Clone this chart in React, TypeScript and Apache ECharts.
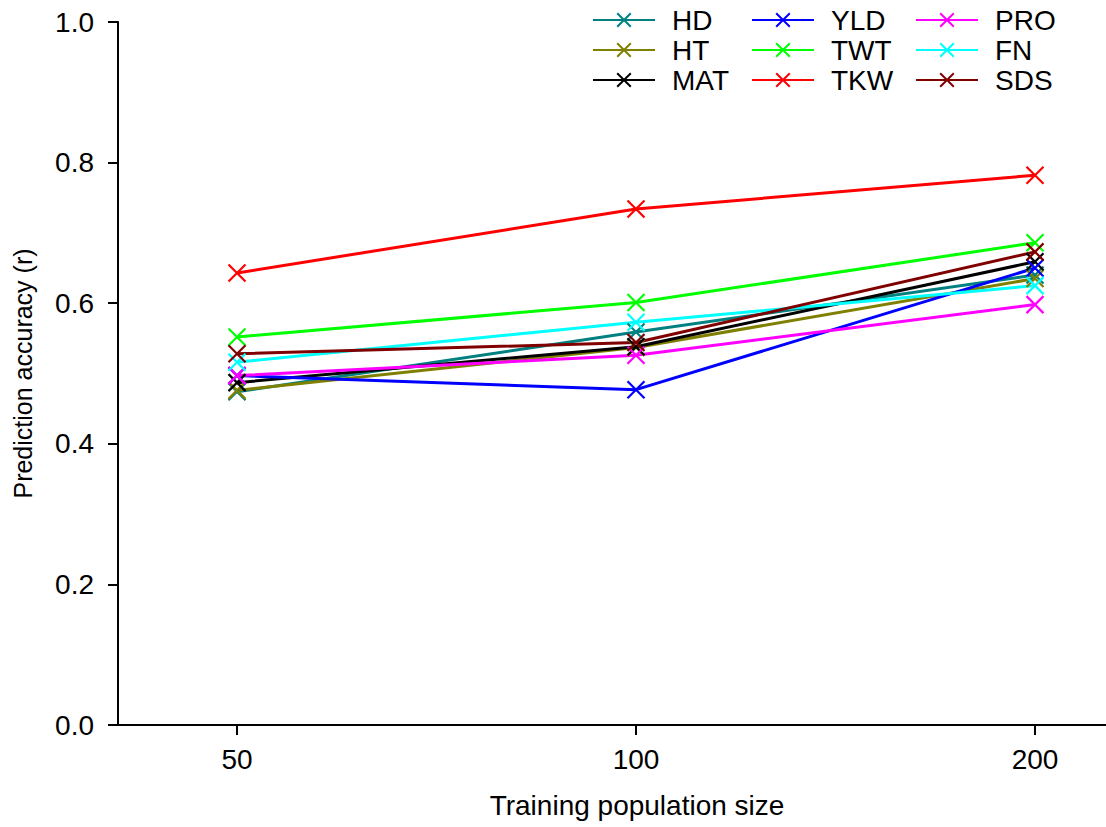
import React, { useEffect, useRef } from "react";
import * as echarts from "echarts";

const categories = ["50", "100", "200"];
const seriesNames = ["HD", "HT", "MAT", "YLD", "TWT", "TKW", "PRO", "FN", "SDS"];
const HD = [0.474, 0.559, 0.640];
const HT = [0.476, 0.537, 0.635];
const MAT = [0.487, 0.538, 0.659];
const YLD = [0.497, 0.477, 0.650];
const TWT = [0.552, 0.601, 0.686];
const TKW = [0.643, 0.734, 0.782];
const PRO = [0.497, 0.526, 0.598];
const FN = [0.516, 0.573, 0.625];
const SDS = [0.528, 0.544, 0.673];
const yTicks = [0, 0.2, 0.4, 0.6, 0.8, 1.0];

const seriesValues: Record<string, number[]> = { HD, HT, MAT, YLD, TWT, TKW, PRO, FN, SDS };
const colors: Record<string, string> = {
  HD: "#008080",
  HT: "#808000",
  MAT: "#000000",
  YLD: "#0000ff",
  TWT: "#00ff00",
  TKW: "#ff0000",
  PRO: "#ff00ff",
  FN: "#00ffff",
  SDS: "#800000",
};

const FONT = "Liberation Sans, Arial, sans-serif";
const X_SYMBOL = "path://M0,0L10,10M10,0L0,10";

export default function App() {
  const ref = useRef<HTMLDivElement>(null);
  useEffect(() => {
    if (!ref.current) return;
    const chart = echarts.init(ref.current, undefined, { renderer: "svg" });
    const legendCols = [
      { names: ["HD", "HT", "MAT"], left: 592 },
      { names: ["YLD", "TWT", "TKW"], left: 751 },
      { names: ["PRO", "FN", "SDS"], left: 915 },
    ];
    chart.setOption({
      animation: false,
      backgroundColor: "#ffffff",
      textStyle: { fontFamily: FONT },
      grid: { left: 118, right: 0, top: 22, bottom: 102, containLabel: false },
      legend: legendCols.map((c) => ({
        data: c.names,
        orient: "vertical",
        left: c.left,
        top: 5,
        itemWidth: 62,
        itemHeight: 17,
        itemGap: 0,
        padding: 0,
        selectedMode: false,
        textStyle: { fontSize: 28, fontFamily: FONT, color: "#000", lineHeight: 30, padding: [0, 0, 0, 12] },
      })),
      xAxis: {
        type: "value",
        min: (118 - 237) / 399,
        max: (1106 - 237) / 399,
        splitLine: { show: false },
        axisLine: { show: true, onZero: false, lineStyle: { color: "#000", width: 2 } },
        axisTick: { show: true, inside: false, length: 10, customValues: [0, 1, 2], lineStyle: { color: "#000", width: 2 } },
        axisLabel: {
          show: true,
          customValues: [0, 1, 2],
          formatter: (v: number) => categories[Math.round(v)] ?? "",
          fontSize: 28,
          color: "#000",
          margin: 20,
          fontFamily: FONT,
        },
        name: "Training population size",
        nameLocation: "middle",
        nameGap: 66,
        nameTextStyle: { fontSize: 28, color: "#000", fontFamily: FONT, padding: [0, 0, 0, 50] },
      },
      yAxis: {
        type: "value",
        min: 0,
        max: 1,
        interval: 0.2,
        splitLine: { show: false },
        axisLine: { show: true, onZero: false, lineStyle: { color: "#000", width: 2 } },
        axisTick: { show: true, inside: false, length: 10, lineStyle: { color: "#000", width: 2 } },
        axisLabel: {
          formatter: (v: number) => v.toFixed(1),
          fontSize: 28,
          color: "#000",
          margin: 24,
          fontFamily: FONT,
          customValues: yTicks,
        },
        name: "Prediction accuracy (r)",
        nameLocation: "middle",
        nameGap: 83,
        nameTextStyle: { fontSize: 25, color: "#000", fontFamily: FONT },
      },
      graphic: [
        {
          type: "line",
          shape: { x1: 108, y1: 725, x2: 119, y2: 725 },
          style: { stroke: "#000", lineWidth: 2 },
        },
      ],
      series: seriesNames.map((name) => ({
        name,
        type: "line",
        data: seriesValues[name].map((v, i) => [i, v]),
        symbol: X_SYMBOL,
        symbolSize: 17,
        showSymbol: true,
        lineStyle: { color: colors[name], width: 3 },
        itemStyle: { color: colors[name], borderColor: colors[name], borderWidth: 2.2 },
        emphasis: { disabled: true },
        z: 2,
      })),
    });
    return () => chart.dispose();
  }, []);
  return <div ref={ref} style={{ position: "absolute", left: 0, top: 0, width: 1106, height: 827 }} />;
}
